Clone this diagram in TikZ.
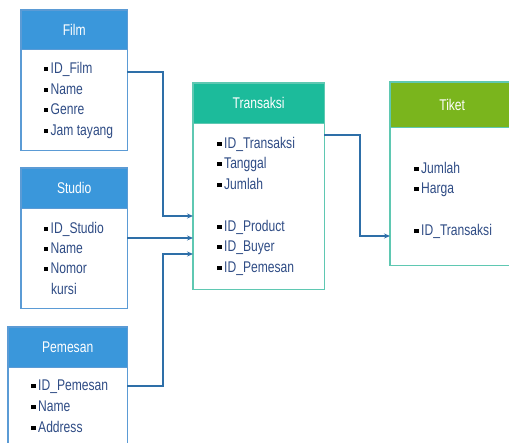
\documentclass[tikz,border=0pt]{standalone}
\usepackage{fontspec}
\setmainfont{Liberation Sans}[FakeStretch=0.78]
\usetikzlibrary{arrows.meta}

\definecolor{hdrblue}{HTML}{3A97DB}
\definecolor{boxblue}{HTML}{5B9BD5}
\definecolor{hdrteal}{HTML}{1CBB9B}
\definecolor{boxteal}{HTML}{5FC8B2}
\definecolor{hdrgreen}{HTML}{7AB51D}
\definecolor{linkblue}{HTML}{2E6FA8}
\definecolor{itemblue}{HTML}{2F4C85}

\newcommand{\bul}{\textcolor{black}{\rule[2.8pt]{4.5pt}{4.5pt}}\hspace{2.5pt}}

\tikzset{
  head/.style={fill=#1, text=white, anchor=north west, inner sep=0pt,
    font=\fontsize{15.5}{18}\selectfont},
  body/.style={fill=white, anchor=north, inner sep=0pt},
  frame/.style={draw=#1, line width=1.2pt},
  item/.style={anchor=base west, inner sep=0pt, text=itemblue,
    font=\fontsize{15.5}{18}\selectfont},
  link/.style={draw=linkblue, line width=1.1pt, -{Stealth[length=6pt,width=5pt]}}
}

\begin{document}
\begin{tikzpicture}[x=1pt,y=-1pt]
  \useasboundingbox (0,0) rectangle (509,443);
  % Film
  \node[head=hdrblue, minimum width=106, minimum height=39] (film) at (21,10) {Film};
  \node[body, minimum width=106, minimum height=101] (filmbody) at (film.south) {};
  \draw[frame=boxblue] (film.north west) rectangle (filmbody.south east);
  \draw[frame=boxblue] (film.south west) -- (film.south east);
  \node[item] (idfilm) at (43.5,74) {\bul ID\_Film};
  \node[item] (namefilm) at (43.5,95) {\bul Name};
  \node[item] (genre) at (43.5,115) {\bul Genre};
  \node[item] (jam) at (43.5,136) {\bul Jam tayang};
  % Studio
  \node[head=hdrblue, minimum width=106, minimum height=40] (studio) at (21,168) {Studio};
  \node[body, minimum width=106, minimum height=100] (studiobody) at (studio.south) {};
  \draw[frame=boxblue] (studio.north west) rectangle (studiobody.south east);
  \draw[frame=boxblue] (studio.south west) -- (studio.south east);
  \node[item] (idstudio) at (43.5,234) {\bul ID\_Studio};
  \node[item] (namestudio) at (43.5,254) {\bul Name};
  \node[item] (nomor) at (43.5,274) {\bul Nomor};
  \node[item] (kursi) at (51,295) {kursi};
  % Pemesan
  \node[head=hdrblue, minimum width=119, minimum height=40] (pemesan) at (8,327) {Pemesan};
  \node[body, minimum width=119, minimum height=100] (pemesanbody) at (pemesan.south) {};
  \draw[frame=boxblue] (pemesan.north west) rectangle (pemesanbody.south east);
  \draw[frame=boxblue] (pemesan.south west) -- (pemesan.south east);
  \node[item] (idpemesan) at (31,391) {\bul ID\_Pemesan};
  \node[item] (namepemesan) at (31,412) {\bul Name};
  \node[item] (address) at (31,433) {\bul Address};
  % Transaksi
  \node[head=hdrteal, minimum width=131, minimum height=40] (trans) at (193,83) {Transaksi};
  \node[body, minimum width=131, minimum height=166] (transbody) at (trans.south) {};
  \draw[frame=boxteal] (trans.north west) rectangle (transbody.south east);
  \draw[frame=boxteal] (trans.south west) -- (trans.south east);
  \node[item] (idtrans) at (217,149) {\bul ID\_Transaksi};
  \node[item] (tanggal) at (217,169) {\bul Tanggal};
  \node[item] (jumlah) at (217,190) {\bul Jumlah};
  \node[item] (idproduct) at (217,232) {\bul ID\_Product};
  \node[item] (idbuyer) at (217,252) {\bul ID\_Buyer};
  \node[item] (idpem) at (217,273) {\bul ID\_Pemesan};
  % Tiket
  \node[head=hdrgreen, minimum width=124, minimum height=45] (tiket) at (390,82) {Tiket};
  \node[body, minimum width=124, minimum height=138] (tiketbody) at (tiket.south) {};
  \draw[frame=boxteal] (tiket.north west) rectangle (tiketbody.south east);
  \draw[frame=boxteal] (tiket.south west) -- (tiket.south east);
  \node[item] (jumlahtiket) at (414,174) {\bul Jumlah};
  \node[item] (harga) at (414,194) {\bul Harga};
  \node[item] (idtranstiket) at (414,236) {\bul ID\_Transaksi};
  % connectors
  \draw[link] (filmbody.east |- 0,72) -- (163,72) |- (transbody.west |- 0,216);
  \draw[link] (studiobody.east |- 0,238) -- (transbody.west |- 0,238);
  \draw[link] (pemesanbody.east |- 0,386) -- (163,386) |- (transbody.west |- 0,254);
  \draw[link] (transbody.east |- 0,135) -- (360,135) |- (tiketbody.west |- 0,236);
\end{tikzpicture}
\end{document}
